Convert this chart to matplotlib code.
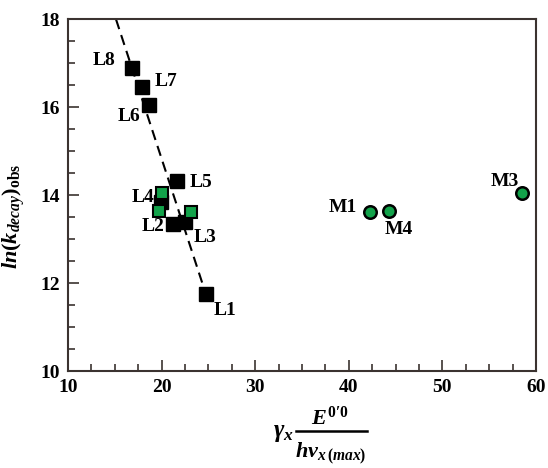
"""Decay rate vs. reorganisation parameter: L-series squares, M-series circles."""
import matplotlib

matplotlib.use("Agg")
import matplotlib.pyplot as plt  # noqa: E402
from matplotlib.lines import Line2D  # noqa: E402
from matplotlib.ticker import MultipleLocator  # noqa: E402

plt.rcParams["font.family"] = ["Liberation Serif", "DejaVu Serif"]
plt.rcParams["font.weight"] = "bold"
plt.rcParams["mathtext.fontset"] = "custom"
plt.rcParams["mathtext.it"] = "Liberation Serif:bold:italic"
plt.rcParams["mathtext.rm"] = "Liberation Serif:bold"
plt.rcParams["mathtext.bf"] = "Liberation Serif:bold"

# black squares (L series)
black_names = ["L1", "L2", "L3", "L4", "L5", "L6", "L7", "L8"]
black_x = [24.74, 21.25, 22.5, 19.9, 21.68, 18.65, 17.94, 16.8]
black_y = [11.75, 13.34, 13.39, 13.85, 14.33, 16.06, 16.45, 16.89]

# green squares overlapping the L cluster
green_sq_x = [20.1, 19.75, 23.1]
green_sq_y = [14.06, 13.64, 13.61]

# green circles (M series)
circle_names = ["M1", "M4", "M3"]
circle_x = [42.27, 44.33, 58.47]
circle_y = [13.61, 13.64, 14.05]

# linear fit through the L series
fit_x = [15.13, 24.74]
fit_y = [18.0, 11.75]

# label placement (offset in points from the marker)
black_offsets = {
    "L1": (13.5, -12), "L2": (-14.5, -2), "L3": (14.5, -11), "L4": (-13, 3),
    "L5": (17, -1), "L6": (-14, -8.5), "L7": (17, 4), "L8": (-20, 5.5),
}
circle_offsets = {"M1": (-19.5, 3.5), "M4": (6.5, -13), "M3": (-12, 8.5)}

GREEN = "#12a24a"
SPINE = "#3b3330"
W, H = 548, 468

fig = plt.figure(figsize=(W / 100, H / 100), dpi=100)
ax = fig.add_axes([0.124, 0.207, 0.854, 0.752])

ax.plot(fit_x, fit_y, color="black", linestyle=(0, (5, 3)), linewidth=1.5, zorder=2)
ax.plot(black_x, black_y, linestyle="none", marker="s", markersize=10,
        markerfacecolor="black", markeredgecolor="black", zorder=3)
ax.plot(green_sq_x, green_sq_y, linestyle="none", marker="s", markersize=9,
        markerfacecolor=GREEN, markeredgecolor="black", markeredgewidth=1.5, zorder=4)
ax.plot(circle_x, circle_y, linestyle="none", marker="o", markersize=9,
        markerfacecolor=GREEN, markeredgecolor="black", markeredgewidth=1.8, zorder=4)

for name, x, y in zip(black_names, black_x, black_y):
    ax.annotate(name, (x, y), xytext=black_offsets[name], textcoords="offset points",
                ha="center", va="center", fontsize=14, fontweight="bold")
for name, x, y in zip(circle_names, circle_x, circle_y):
    ax.annotate(name, (x, y), xytext=circle_offsets[name], textcoords="offset points",
                ha="center", va="center", fontsize=14, fontweight="bold")

ax.set_xlim(10, 60)
ax.set_ylim(10, 18)
ax.xaxis.set_major_locator(MultipleLocator(10))
ax.xaxis.set_minor_locator(MultipleLocator(2.5))
ax.yaxis.set_major_locator(MultipleLocator(2))
ax.yaxis.set_minor_locator(MultipleLocator(0.5))
ax.tick_params(which="both", direction="in", colors=SPINE, labelcolor="black",
               labelsize=14, width=1.2)
ax.tick_params(which="major", length=8, pad=6)
ax.tick_params(which="minor", length=5)
for label in ax.get_xticklabels() + ax.get_yticklabels():
    label.set_fontweight("bold")
for spine in ax.spines.values():
    spine.set_edgecolor(SPINE)
    spine.set_linewidth(1.5)

ax.set_ylabel(r"$ln(k_{decay})_{\mathrm{obs}}$", fontsize=16)
ax.yaxis.set_label_coords(-0.088, 0.44)

# x label built by hand so the fraction gets more room than mathtext gives it
fig.text(294 / W, 1 - 437 / H, r"$\gamma_x$", fontsize=18, ha="right", va="baseline")
fig.add_artist(Line2D([296 / W, 367 / W], [1 - 431 / H, 1 - 431 / H],
                      transform=fig.transFigure, color="black", linewidth=1.8))
fig.text(330 / W, 1 - 425 / H, r"$E^{0\prime 0}$", fontsize=16, ha="center", va="baseline")
fig.text(331 / W, 1 - 457 / H, r"$h\nu_{x\,(max)}$", fontsize=16, ha="center", va="baseline")

fig.savefig("out.png", dpi=100, facecolor="white")
